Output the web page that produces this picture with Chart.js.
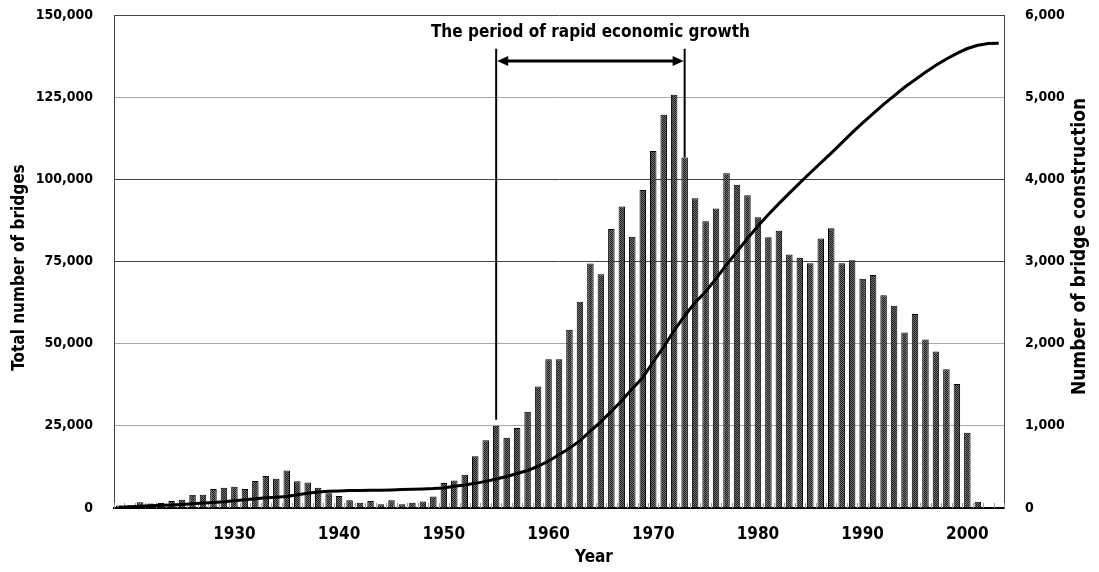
<!DOCTYPE html>
<html>
<head>
<meta charset="utf-8">
<script src="https://cdn.jsdelivr.net/npm/chart.js@4.4.0/dist/chart.umd.min.js"></script>
<style>
  html, body { margin: 0; padding: 0; background: #fff; }
  #wrap { width: 1099px; height: 572px; }
</style>
</head>
<body>
<div id="wrap"><canvas id="bridgeChart" width="1099" height="572"></canvas></div>
<script>
// years 1919 .. 2003
const years = [];
for (let y = 1919; y <= 2003; y++) years.push(String(y));
const labelledYears = ['1930', '1940', '1950', '1960', '1970', '1980', '1990', '2000'];

// bridges built per year (right axis)
const builtPerYear = [
    30, 30, 70, 55, 60, 85, 100, 160, 160, 230,
    245, 260, 230, 330, 390, 355, 455, 325, 310, 245,
    180, 145, 95, 65, 85, 45, 95, 45, 65, 80,
    140, 305, 335, 405, 630, 825, 1000, 855, 975, 1170,
    1480, 1810, 1810, 2170, 2510, 2975, 2845, 3395, 3670, 3300,
    3870, 4345, 4785, 5030, 4265, 3770, 3490, 3645, 4075, 3935,
    3805, 3540, 3295, 3375, 3085, 3045, 2980, 3280, 3405, 2980,
    3015, 2790, 2835, 2590, 2460, 2135, 2360, 2050, 1905, 1690,
    1510, 915, 75, null
];

// cumulative total of bridges (left axis)
const totalBridges = [
    200, 400, 500, 700, 800, 900, 1100, 1300, 1500, 1700,
    1900, 2200, 2500, 2800, 3100, 3300, 3500, 4000, 4500, 4900,
    5100, 5200, 5300, 5300, 5400, 5400, 5500, 5600, 5700, 5800,
    5900, 6100, 6600, 7000, 7500, 8100, 8800, 9600, 10500, 11400,
    12700, 14300, 16200, 18200, 20500, 23400, 26300, 29400, 32700, 36300,
    39700, 44500, 49000, 54000, 58500, 62500, 65800, 69800, 74000, 78000,
    82000, 85800, 89300, 92600, 95800, 98900, 102000, 105000, 108000, 111100,
    114200, 117200, 120000, 122800, 125400, 128000, 130300, 132600, 134700, 136600,
    138300, 139800, 140800, 141300, 141400
];

const leftTicks = [0, 25000, 50000, 75000, 100000, 125000, 150000];
const darkGridValues = [75000, 100000, 150000];

const growthStart = '1955';
const growthEnd = '1973';
const growthLabel = 'The period of rapid economic growth';
const leftTitle = 'Total number of bridges';
const rightTitle = 'Number of bridge construction';
const xTitle = 'Year';

const FONT = '"DejaVu Sans Condensed", "DejaVu Sans", sans-serif';

function makeStipple() {
    const c = document.createElement('canvas');
    c.width = 2; c.height = 2;
    const g = c.getContext('2d');
    g.fillStyle = '#747474';
    g.fillRect(0, 0, 2, 2);
    g.fillStyle = '#1a1a1a';
    g.fillRect(0, 0, 1, 1);
    g.fillRect(1, 1, 1, 1);
    return g.createPattern(c, 'repeat');
}

// small inside tick marks on the year axis
const baseTicksPlugin = {
    id: 'baseTicks',
    beforeDatasetsDraw(chart) {
        const ctx = chart.ctx;
        const xs = chart.scales.x;
        const bottom = chart.chartArea.bottom;
        const step = xs.getPixelForValue(1) - xs.getPixelForValue(0);
        ctx.save();
        ctx.strokeStyle = '#9a9a9a';
        ctx.lineWidth = 1;
        ctx.beginPath();
        for (let i = 0; i <= years.length; i++) {
            const x = Math.round(xs.getPixelForValue(i) - step / 2) + 0.5;
            ctx.moveTo(x, bottom);
            ctx.lineTo(x, bottom - 5);
        }
        ctx.stroke();
        ctx.restore();
    }
};

const growthPlugin = {
    id: 'growthPeriod',
    afterDatasetsDraw(chart) {
        const ctx = chart.ctx;
        const xs = chart.scales.x;
        const yl = chart.scales.yLeft;
        const yr = chart.scales.yRight;
        const area = chart.chartArea;
        const i0 = years.indexOf(growthStart);
        const i1 = years.indexOf(growthEnd);
        const x0 = xs.getPixelForValue(i0);
        const x1 = xs.getPixelForValue(i1);
        const arrowY = yl.getPixelForValue(136000);
        const topY = yl.getPixelForValue(139700);
        const bot0 = yr.getPixelForValue(builtPerYear[i0]) - 6;
        const bot1 = yr.getPixelForValue(builtPerYear[i1]);

        ctx.save();
        ctx.strokeStyle = '#000';
        ctx.fillStyle = '#000';
        ctx.lineWidth = 2;
        ctx.beginPath();
        ctx.moveTo(x0, topY); ctx.lineTo(x0, bot0);
        ctx.moveTo(x1, topY); ctx.lineTo(x1, bot1);
        ctx.stroke();

        ctx.lineWidth = 3;
        ctx.beginPath();
        ctx.moveTo(x0 + 8, arrowY); ctx.lineTo(x1 - 8, arrowY);
        ctx.stroke();
        ctx.beginPath();
        ctx.moveTo(x0 + 1, arrowY); ctx.lineTo(x0 + 12, arrowY - 5); ctx.lineTo(x0 + 12, arrowY + 5);
        ctx.closePath(); ctx.fill();
        ctx.beginPath();
        ctx.moveTo(x1 - 1, arrowY); ctx.lineTo(x1 - 12, arrowY - 5); ctx.lineTo(x1 - 12, arrowY + 5);
        ctx.closePath(); ctx.fill();

        ctx.font = 'bold 17px ' + FONT;
        ctx.textAlign = 'center';
        ctx.textBaseline = 'middle';
        ctx.fillText(growthLabel, (x0 + x1) / 2, arrowY - 28);

        // axis titles
        const midY = (area.top + area.bottom) / 2;
        ctx.save();
        ctx.translate(20, midY + 6);
        ctx.rotate(-Math.PI / 2);
        ctx.fillText(leftTitle, 0, 0);
        ctx.restore();

        ctx.save();
        ctx.font = 'bold 19px ' + FONT;
        ctx.translate(chart.width - 19, midY - 15);
        ctx.rotate(-Math.PI / 2);
        ctx.fillText(rightTitle, 0, 0);
        ctx.restore();

        ctx.fillText(xTitle, (area.left + area.right) / 2 + 35, chart.height - 14);
        ctx.restore();
    }
};

const ctx = document.getElementById('bridgeChart').getContext('2d');

new Chart(ctx, {
    data: {
        labels: years,
        datasets: [
            {
                type: 'line',
                label: 'Total number of bridges',
                data: totalBridges,
                yAxisID: 'yLeft',
                borderColor: '#000',
                borderWidth: 3,
                pointRadius: 0,
                tension: 0,
                order: 0,
            },
            {
                type: 'bar',
                label: 'Number of bridge construction',
                data: builtPerYear,
                yAxisID: 'yRight',
                backgroundColor: makeStipple(),
                borderColor: '#000',
                borderWidth: 1,
                barPercentage: 0.62,
                categoryPercentage: 1.0,
                order: 1,
            },
        ],
    },
    options: {
        responsive: false,
        animation: false,
        events: [],
        layout: { padding: { top: 15, left: 0, right: 0, bottom: 0 } },
        plugins: {
            legend: { display: false },
            tooltip: { enabled: false },
        },
        scales: {
            x: {
                type: 'category',
                offset: true,
                afterFit: (s) => { s.height = 64; },
                grid: { display: false, drawTicks: false },
                border: { color: '#000', width: 2 },
                ticks: {
                    autoSkip: false,
                    maxRotation: 0,
                    padding: 16,
                    color: '#000',
                    font: { family: FONT, size: 17, weight: 'bold' },
                    callback: function (value) {
                        const lbl = this.getLabelForValue(value);
                        return labelledYears.includes(lbl) ? lbl : '';
                    },
                },
            },
            yLeft: {
                position: 'left',
                min: 0,
                max: 150000,
                afterFit: (s) => { s.width = 114; },
                afterBuildTicks: (s) => { s.ticks = leftTicks.map(v => ({ value: v })); },
                grid: {
                    drawTicks: true,
                    tickLength: 20,
                    tickColor: 'rgba(0,0,0,0)',
                    color: (c) => darkGridValues.includes(c.tick.value) ? '#444' : '#a8a8a8',
                    lineWidth: 1,
                },
                border: { color: '#444', width: 1 },
                ticks: {
                    padding: 1,
                    color: '#000',
                    font: { family: FONT, size: 14, weight: 'bold' },
                    callback: (v) => v.toLocaleString('en-US'),
                },
            },
            yRight: {
                position: 'right',
                min: 0,
                max: 6000,
                afterFit: (s) => { s.width = 95; },
                grid: {
                    drawOnChartArea: false,
                    drawTicks: true,
                    tickLength: 20,
                    tickColor: 'rgba(0,0,0,0)',
                },
                border: { color: '#444', width: 1 },
                ticks: {
                    stepSize: 1000,
                    padding: 1,
                    color: '#000',
                    font: { family: FONT, size: 14, weight: 'bold' },
                    callback: (v) => v.toLocaleString('en-US'),
                },
            },
        },
    },
    plugins: [baseTicksPlugin, growthPlugin],
});
</script>
</body>
</html>
